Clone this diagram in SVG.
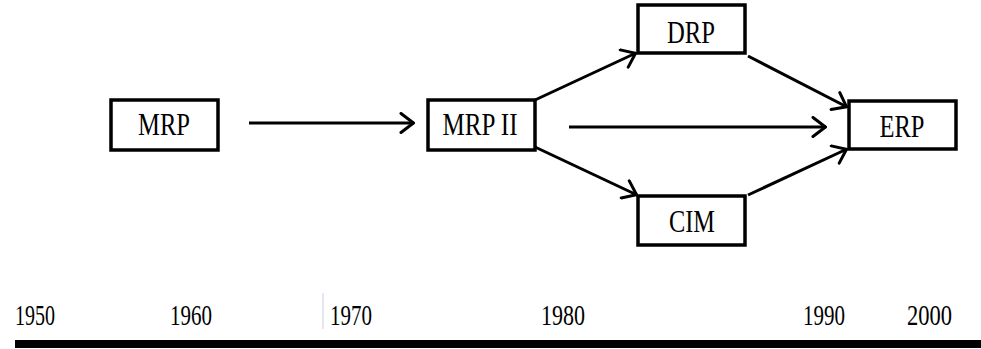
<svg xmlns="http://www.w3.org/2000/svg" width="981" height="349" viewBox="0 0 981 349">
<defs>
<style>
.box{fill:#fff;stroke:#000;stroke-width:3.5}
.lbl{font-family:"Liberation Serif","Times New Roman",serif;font-size:31px;fill:#000;text-anchor:middle}
.yr{font-family:"Liberation Serif","Times New Roman",serif;font-size:30px;fill:#000}
.edge{fill:none;stroke:#000;stroke-width:3}
</style>
<marker id="ah" viewBox="0 0 16 22" refX="15" refY="11" markerWidth="16" markerHeight="22" markerUnits="userSpaceOnUse" orient="auto">
<path d="M2,1.5 L14.5,11 L2,20.5" fill="none" stroke="#000" stroke-width="3" stroke-linecap="round" stroke-linejoin="miter"/>
</marker>
</defs>
<rect width="981" height="349" fill="#fff"/>
<g id="connectors">
<line class="edge" x1="249" y1="123" x2="414" y2="123" marker-end="url(#ah)"/>
<line class="edge" x1="535" y1="100" x2="636" y2="53" marker-end="url(#ah)"/>
<line class="edge" x1="569" y1="127" x2="826" y2="127" marker-end="url(#ah)"/>
<line class="edge" x1="535" y1="147" x2="637" y2="195" marker-end="url(#ah)"/>
<line class="edge" x1="748" y1="56" x2="847" y2="107" marker-end="url(#ah)"/>
<line class="edge" x1="748" y1="195" x2="847" y2="149" marker-end="url(#ah)"/>
</g>
<g id="node-mrp">
<rect class="box" x="111" y="100" width="107" height="50"/>
<text class="lbl" x="164" y="135" textLength="52" lengthAdjust="spacingAndGlyphs">MRP</text>
</g>
<g id="node-mrp2">
<rect class="box" x="428" y="100" width="107" height="50"/>
<text class="lbl" x="480" y="135" textLength="75" lengthAdjust="spacingAndGlyphs">MRP II</text>
</g>
<g id="node-drp">
<rect class="box" x="638" y="5" width="107" height="48"/>
<text class="lbl" x="691" y="43" textLength="48" lengthAdjust="spacingAndGlyphs">DRP</text>
</g>
<g id="node-erp">
<rect class="box" x="849" y="101" width="107" height="48"/>
<text class="lbl" x="902" y="137" textLength="45" lengthAdjust="spacingAndGlyphs">ERP</text>
</g>
<g id="node-cim">
<rect class="box" x="638" y="196" width="107" height="49"/>
<text class="lbl" x="692" y="232" textLength="46" lengthAdjust="spacingAndGlyphs">CIM</text>
</g>
<g id="timeline">
<line x1="323" y1="293" x2="323" y2="329" stroke="#c8cfe0" stroke-width="1"/>
<text class="yr" x="15" y="325" textLength="40" lengthAdjust="spacingAndGlyphs">1950</text>
<text class="yr" x="170" y="325" textLength="42" lengthAdjust="spacingAndGlyphs">1960</text>
<text class="yr" x="330" y="325" textLength="42" lengthAdjust="spacingAndGlyphs">1970</text>
<text class="yr" x="541" y="325" textLength="44" lengthAdjust="spacingAndGlyphs">1980</text>
<text class="yr" x="803" y="325" textLength="42" lengthAdjust="spacingAndGlyphs">1990</text>
<text class="yr" x="907" y="325" textLength="45" lengthAdjust="spacingAndGlyphs">2000</text>
<line x1="15" y1="344" x2="981" y2="344" stroke="#000" stroke-width="8"/>
</g>
</svg>
